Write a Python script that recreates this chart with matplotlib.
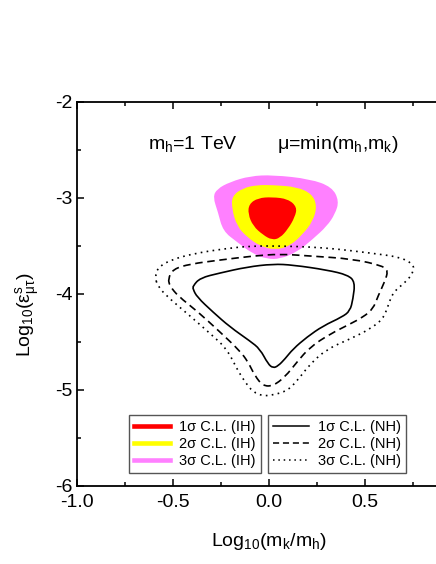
import matplotlib
matplotlib.use("Agg")
import matplotlib.pyplot as plt
from matplotlib.path import Path
from matplotlib.patches import PathPatch
from matplotlib.lines import Line2D
import numpy as np

plt.rcParams['font.family'] = ['Liberation Sans', 'DejaVu Sans']
plt.rcParams['mathtext.fontset'] = 'custom'
plt.rcParams['mathtext.rm'] = 'Liberation Sans'
plt.rcParams['mathtext.it'] = 'Liberation Sans:italic'

# 3 sigma IH (magenta region)
ih3_x = [0.021, 0.214, 0.328, 0.365, 0.344, 0.302, 0.229, 0.146, 0.057, -0.010,
         -0.083, -0.167, -0.240, -0.266, -0.292, -0.271, -0.203, -0.099]
ih3_y = [-2.760, -2.802, -2.885, -3.031, -3.167, -3.292, -3.427, -3.563, -3.635, -3.635,
         -3.583, -3.458, -3.344, -3.146, -2.990, -2.906, -2.833, -2.771]
# 2 sigma IH (yellow region)
ih2_x = [0.021, 0.146, 0.224, 0.25, 0.229, 0.177, 0.109, 0.031, -0.047, -0.115,
         -0.167, -0.193, -0.193, -0.135, -0.0625]
ih2_y = [-2.865, -2.885, -2.958, -3.083, -3.240, -3.375, -3.5, -3.542, -3.5, -3.406,
         -3.292, -3.115, -2.979, -2.896, -2.865]
# 1 sigma IH (red region)
ih1_x = [0.016, 0.099, 0.146, 0.135, 0.099, 0.057, 0.016, -0.031, -0.083, -0.109,
         -0.104, -0.057]
ih1_y = [-2.990, -3.010, -3.094, -3.198, -3.323, -3.417, -3.4375, -3.385, -3.292, -3.167,
         -3.0625, -3.0]

# 1 sigma NH (solid)
nh1_x = [-0.396, -0.359, -0.255, -0.115, 0.021, 0.125, 0.302, 0.411, 0.448, 0.4375,
         0.422, 0.380, 0.281, 0.198, 0.125, 0.083, 0.047, 0.021, -0.005, -0.047,
         -0.099, -0.203, -0.292, -0.375, -0.396]
nh1_y = [-3.917, -3.833, -3.781, -3.719, -3.6875, -3.698, -3.750, -3.802, -3.875, -4.052,
         -4.177, -4.240, -4.333, -4.448, -4.573, -4.677, -4.75, -4.771, -4.729, -4.573,
         -4.490, -4.344, -4.188, -4.031, -3.948]
# 2 sigma NH (dashed)
nh2_x = [-0.526, -0.5, -0.411, -0.255, -0.083, 0.057, 0.214, 0.4375, 0.594, 0.620,
         0.604, 0.568, 0.542, 0.490, 0.422, 0.318, 0.214, 0.146, 0.083, 0.021,
         -0.031, -0.073, -0.109, -0.151, -0.255, -0.375, -0.474, -0.516]
nh2_y = [-3.844, -3.740, -3.6875, -3.646, -3.604, -3.583, -3.604, -3.635, -3.708, -3.760,
         -3.865, -4.021, -4.156, -4.240, -4.3125, -4.417, -4.552, -4.708, -4.865, -4.958,
         -4.958, -4.854, -4.708, -4.594, -4.396, -4.177, -4.021, -3.917]
# 3 sigma NH (dotted)
nh3_x = [-0.594, -0.578, -0.5, -0.375, -0.240, -0.099, 0.057, 0.214, 0.354, 0.526,
         0.682, 0.75, 0.755, 0.719, 0.646, 0.620, 0.594, 0.526, 0.422, 0.302,
         0.214, 0.146, 0.094, 0.021, -0.031, -0.083, -0.125, -0.167, -0.219,
         -0.292, -0.411, -0.516, -0.578]
nh3_y = [-3.823, -3.719, -3.635, -3.573, -3.531, -3.5, -3.5, -3.510, -3.531, -3.573,
         -3.615, -3.6875, -3.760, -3.865, -3.979, -4.125, -4.260, -4.365, -4.469, -4.573,
         -4.729, -4.906, -5.010, -5.052, -5.0625, -5.021, -4.917, -4.781, -4.573,
         -4.4375, -4.229, -4.052, -3.927]

x_ticks = [-1.0, -0.5, 0.0, 0.5]
y_ticks = [-2, -3, -4, -5, -6]


def smooth_path(xs, ys):
    # closed quadratic b-spline through midpoints of the given outline
    pts = np.column_stack([xs, ys])
    n = len(pts)
    mids = (pts + np.roll(pts, -1, axis=0)) / 2
    verts = [mids[-1]]
    codes = [Path.MOVETO]
    for i in range(n):
        verts += [pts[i], mids[i]]
        codes += [Path.CURVE3, Path.CURVE3]
    return Path(verts, codes)


W, H = 436, 564
fig = plt.figure(figsize=(W / 100, H / 100), dpi=100)
# axes run past the right edge of the figure, as in the original
ax = fig.add_axes([77 / W, (H - 486) / H, 384 / W, 384 / H])

for xs, ys, col in [(ih3_x, ih3_y, '#ff80ff'), (ih2_x, ih2_y, '#ffff00'), (ih1_x, ih1_y, '#ff0000')]:
    ax.add_patch(PathPatch(smooth_path(xs, ys), facecolor=col, edgecolor='none', zorder=2))

styles = [(nh1_x, nh1_y, '-'), (nh2_x, nh2_y, (0, (4.5, 2.8))), (nh3_x, nh3_y, (0, (1, 2.6)))]
for xs, ys, ls in styles:
    ax.add_patch(PathPatch(smooth_path(xs, ys), facecolor='none', edgecolor='black',
                           lw=1.2, linestyle=ls, zorder=3))

ax.set_xlim(-1.0, 1.0)
ax.set_ylim(-6, -2)
ax.set_xticks(x_ticks)
ax.set_yticks(y_ticks)
ax.set_xticklabels(['%.1f' % v for v in x_ticks])
ax.set_yticklabels(['%d' % v for v in y_ticks])
ax.set_xticks(np.arange(-1.0, 1.01, 0.25), minor=True)
ax.set_yticks(np.arange(-6, -1.9, 0.5), minor=True)
ax.tick_params(which='both', direction='in', top=True, right=True, labelsize=14, width=1.1)
ax.tick_params(which='major', length=5)
ax.tick_params(which='minor', length=3)
ax.tick_params(axis='x', pad=6)
for s in ax.spines.values():
    s.set_linewidth(1.3)

ax.text(-0.63, -2.44, r'$\mathregular{m_h}$=1 TeV', fontsize=14, ha='left', va='center')
ax.text(0.04, -2.44, r'$\mathregular{\mu}$=min($\mathregular{m_h}$,$\mathregular{m_k}$)',
        fontsize=14, ha='left', va='center')

fig.text(28 / W, 1 - 315 / H, r'Log$_{10}$($\mathregular{ε^s_{μτ}}$)', rotation=90,
         fontsize=14, ha='center', va='center')
fig.text(269 / W, 1 - 542 / H, r'Log$_{10}$($\mathregular{m_k}$/$\mathregular{m_h}$)',
         fontsize=14, ha='center', va='center')

ih_handles = [Line2D([], [], color=c, lw=3.3) for c in ['#ff0000', '#ffff00', '#ff80ff']]
ih_labels = ['1σ C.L. (IH)', '2σ C.L. (IH)', '3σ C.L. (IH)']
nh_handles = [Line2D([], [], color='black', lw=1.1, linestyle=ls)
              for ls in ['-', (0, (4, 2.5)), (0, (1, 2.5))]]
nh_labels = ['1σ C.L. (NH)', '2σ C.L. (NH)', '3σ C.L. (NH)']

leg_kw = dict(loc='lower left', fontsize=10.5, frameon=True, fancybox=False, framealpha=1,
              edgecolor='#555555', borderaxespad=0, labelspacing=0.2, handlelength=2.5,
              handletextpad=0.6, borderpad=0.35)
leg1 = ax.legend(ih_handles, ih_labels, bbox_to_anchor=(0.135, 0.034), **leg_kw)
leg1.get_frame().set_linewidth(1.0)
ax.add_artist(leg1)
leg2 = ax.legend(nh_handles, nh_labels, bbox_to_anchor=(0.497, 0.034), **leg_kw)
leg2.get_frame().set_linewidth(1.0)

fig.savefig('out.png', dpi=100)
